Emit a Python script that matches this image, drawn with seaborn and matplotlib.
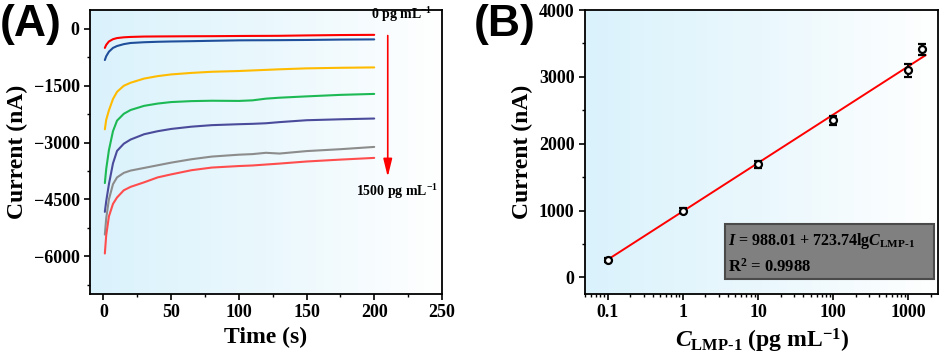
import numpy as np
import pandas as pd
import matplotlib
matplotlib.use('Agg')
import matplotlib.pyplot as plt
import seaborn as sns
from matplotlib.colors import LinearSegmentedColormap
from matplotlib.patches import Rectangle
from matplotlib.ticker import MultipleLocator, LogLocator, FixedLocator, NullFormatter

# ---- Panel A: current vs time for each concentration ----
time_s = [1, 2, 4, 7, 10, 15, 20, 30, 40, 50, 65, 80, 100, 110, 120, 130, 150, 175, 200]
curve_0 = [-500, -420, -330, -270, -240, -220, -210, -200, -197, -195, -192, -190, -185, -183, -182, -180, -170, -160, -155]
curve_1 = [-820, -720, -600, -500, -450, -400, -370, -350, -338, -330, -322, -312, -300, -298, -297, -295, -290, -280, -275]
curve_2 = [-2650, -2400, -2150, -1850, -1660, -1500, -1420, -1310, -1245, -1200, -1160, -1130, -1110, -1095, -1080, -1065, -1040, -1025, -1015]
curve_3 = [-4070, -3700, -3200, -2700, -2420, -2240, -2140, -2030, -1970, -1930, -1905, -1895, -1900, -1885, -1840, -1815, -1780, -1740, -1715]
curve_4 = [-4830, -4550, -4100, -3550, -3220, -3030, -2920, -2780, -2700, -2640, -2580, -2540, -2515, -2505, -2490, -2460, -2410, -2385, -2365]
curve_5 = [-5430, -5000, -4500, -4100, -3920, -3800, -3740, -3670, -3600, -3530, -3440, -3370, -3320, -3305, -3270, -3290, -3225, -3175, -3115]
curve_6 = [-5930, -5450, -4950, -4620, -4450, -4260, -4170, -4050, -3920, -3840, -3730, -3660, -3620, -3605, -3580, -3555, -3500, -3450, -3405]
curves = [curve_0, curve_1, curve_2, curve_3, curve_4, curve_5, curve_6]
curve_colors = ['#ff0000', '#1f4e9a', '#ffbb00', '#1db954', '#4b4b9b', '#8c8c8c', '#ff4d4d']

# ---- Panel B: calibration ----
conc = [0.1, 1, 10, 100, 1000, 1500]
current = [260, 1000, 1690, 2350, 3100, 3410]
current_err = [25, 30, 50, 70, 100, 80]
intercept, slope = 988.01, 723.74

sns.set_theme(style='ticks')
plt.rcParams['font.family'] = ['Liberation Serif', 'DejaVu Serif']
plt.rcParams['font.weight'] = 'bold'
plt.rcParams['text.color'] = 'black'
plt.rcParams['axes.labelcolor'] = 'black'
plt.rcParams['xtick.color'] = 'black'
plt.rcParams['ytick.color'] = 'black'
plt.rcParams['mathtext.fontset'] = 'custom'
plt.rcParams['mathtext.rm'] = 'Liberation Serif:bold'
plt.rcParams['mathtext.it'] = 'Liberation Serif:italic:bold'
plt.rcParams['mathtext.bf'] = 'Liberation Serif:bold'

fig = plt.figure(figsize=(9.41, 3.59), dpi=100)
axA = fig.add_axes([0.0956, 0.181, 0.374, 0.791])
axB = fig.add_axes([0.6217, 0.181, 0.3755, 0.791])

grad = LinearSegmentedColormap.from_list('bg', ['#daf2fc', '#eaf8fd', '#ffffff'])
for ax in (axA, axB):
    ax.imshow(np.linspace(0, 1, 256).reshape(1, -1), cmap=grad, aspect='auto',
              extent=[0, 1, 0, 1], transform=ax.transAxes, zorder=0)

# Panel A
rows = []
for i, vals in enumerate(curves):
    for t, v in zip(time_s, vals):
        rows.append({'t': t, 'I': v, 'c': str(i)})
dfA = pd.DataFrame(rows)
sns.lineplot(data=dfA, x='t', y='I', hue='c', palette=curve_colors, linewidth=1.5,
             legend=False, ax=axA, zorder=3)
axA.set_xlim(-10, 250)
axA.set_ylim(-7000, 500)
axA.xaxis.set_major_locator(MultipleLocator(50))
axA.xaxis.set_minor_locator(MultipleLocator(25))
axA.yaxis.set_major_locator(MultipleLocator(1500))
axA.yaxis.set_minor_locator(MultipleLocator(750))
axA.set_xlabel('Time (s)', fontsize=17, fontweight='bold', labelpad=4)
axA.set_ylabel('Current (nA)', fontsize=17, fontweight='bold', labelpad=4)

axA.annotate('', xy=(210, -3980), xytext=(210, -100),
             arrowprops=dict(arrowstyle='-|>,head_length=0.9,head_width=0.22',
                             color='#ff0000', lw=1.2), zorder=4)
axA.text(220, 120, '0 pg mL$^{-1}$', fontsize=10, fontweight='bold', ha='center', va='bottom')
axA.text(217, -4300, '1500 pg mL$^{-1}$', fontsize=10, fontweight='bold', ha='center', va='center')

# Panel B
xfit = np.logspace(np.log10(0.1), np.log10(1700), 50)
dfFit = pd.DataFrame({'x': xfit, 'y': intercept + slope * np.log10(xfit)})
sns.lineplot(data=dfFit, x='x', y='y', color='#ff0000', linewidth=1.4, ax=axB, zorder=3)
axB.errorbar(conc, current, yerr=current_err, fmt='o', ms=5, mfc='white', mec='black',
             mew=1.6, ecolor='black', elinewidth=1.3, capsize=3, capthick=1.3, zorder=4)
axB.set_xscale('log')
axB.set_xlim(0.05, 2500)
axB.set_ylim(-250, 4000)
axB.xaxis.set_major_locator(FixedLocator([0.1, 1, 10, 100, 1000]))
axB.set_xticklabels(['0.1', '1', '10', '100', '1000'])
axB.xaxis.set_minor_locator(LogLocator(base=10, subs=np.arange(2, 10)))
axB.xaxis.set_minor_formatter(NullFormatter())
axB.yaxis.set_major_locator(MultipleLocator(1000))
axB.yaxis.set_minor_locator(MultipleLocator(500))
axB.set_xlabel(r'$\mathit{C}_{\mathrm{LMP\text{-}1}}$ (pg mL$^{-1}$)', fontsize=17,
               fontweight='bold', labelpad=4)
axB.set_ylabel('Current (nA)', fontsize=17, fontweight='bold', labelpad=4)

box = Rectangle((0.396, 0.053), 0.592, 0.193, transform=axB.transAxes, facecolor='#808080',
                edgecolor='#4a4a4a', linewidth=1.5, zorder=5)
axB.add_patch(box)
axB.text(0.405, 0.185, r'$\mathit{I}$ = 988.01 + 723.74lg$\mathit{C}_{\mathrm{LMP\text{-}1}}$',
         transform=axB.transAxes, fontsize=11.5, fontweight='bold', va='center', zorder=6)
axB.text(0.405, 0.095, 'R$^{2}$ = 0.9988', transform=axB.transAxes, fontsize=12,
         fontweight='bold', va='center', zorder=6)

for ax in (axA, axB):
    for s in ax.spines.values():
        s.set_linewidth(1.3)
        s.set_color('black')
        s.set_visible(True)
    ax.tick_params(which='major', direction='out', length=4, width=1.2, labelsize=13,
                   top=False, right=False, color='black', labelcolor='black')
    ax.tick_params(which='minor', direction='out', length=2.5, width=1.0,
                   top=False, right=False, color='black')
    for lab in ax.get_xticklabels() + ax.get_yticklabels():
        lab.set_fontweight('bold')

fig.text(0.0, 0.99, '(A)', fontsize=32, fontweight='bold', family='Liberation Sans',
         va='top', color='black')
fig.text(0.503, 0.99, '(B)', fontsize=32, fontweight='bold', family='Liberation Sans',
         va='top', color='black')

fig.savefig('out.png', dpi=100)
